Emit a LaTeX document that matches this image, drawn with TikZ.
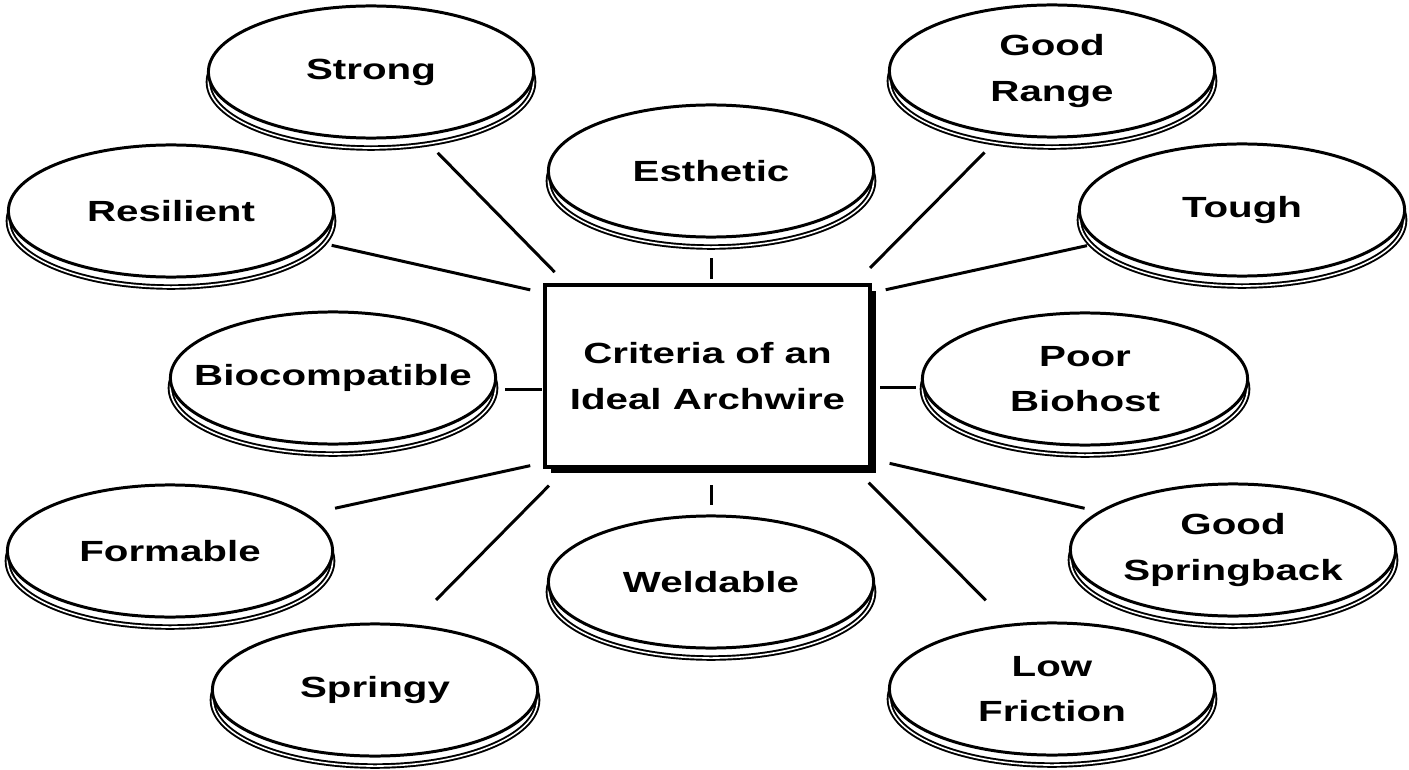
\documentclass[tikz,border=0pt]{standalone}
\usepackage{fontspec}
\newfontfamily\discfont[FakeStretch=1.38]{Liberation Sans}
\usetikzlibrary{shapes.geometric}

\tikzset{
	disc/.style={ellipse, draw, fill=white, line width=0.85pt,
		minimum width=3.25cm, minimum height=1.32cm,
		inner xsep=-1cm, inner ysep=-0.3cm, outer sep=0pt, align=center,
		font=\discfont\bfseries\fontsize{8.3}{13}\selectfont,
		preaction={draw, fill=white, line width=0.55pt, double=white, double distance=0.45pt,
			transform canvas={yshift=-0.1cm}}},
	hub/.style={rectangle, draw, fill=white, line width=1.1pt,
		minimum width=3.25cm, minimum height=1.82cm, outer sep=0pt, align=center,
		font=\discfont\bfseries\fontsize{8.3}{13}\selectfont,
		preaction={fill=black, transform canvas={shift={(0.06cm,-0.06cm)}}}},
	spoke/.style={line width=0.85pt}
}

\begin{document}
\begin{tikzpicture}[x=0.01cm, y=-0.01cm]
	\useasboundingbox[fill=white] (0,0) rectangle (1409,770);
	\node[hub] (hub) at (707.5,376) {Criteria of an\\Ideal Archwire};
	\node[disc] (strong) at (371,72) {Strong};
	\node[disc] (range) at (1052,71) {Good\\Range};
	\node[disc] (esthetic) at (711,171) {Esthetic};
	\node[disc] (resilient) at (171,211) {Resilient};
	\node[disc] (tough) at (1242,210) {Tough};
	\node[disc] (biocomp) at (333,378) {Biocompatible};
	\node[disc] (biohost) at (1085,379) {Poor\\Biohost};
	\node[disc] (formable) at (170,551) {Formable};
	\node[disc] (springback) at (1233,550) {Good\\Springback};
	\node[disc] (weldable) at (711,582) {Weldable};
	\node[disc] (springy) at (375,690) {Springy};
	\node[disc] (friction) at (1052,689) {Low\\Friction};

	\draw[spoke, shorten <=0.25cm, shorten >=0.18cm] (strong.-52) -- (hub.147);
	\draw[spoke, shorten <=0.17cm, shorten >=0.15cm] (resilient.-12) -- (hub.153);
	\draw[spoke, shorten <=0.21cm, shorten >=0.06cm] (esthetic.south) -- (esthetic.south |- hub.north);
	\draw[spoke, shorten <=0.26cm, shorten >=0.24cm] (range.232) -- (hub.32);
	\draw[spoke, shorten <=0.14cm, shorten >=0.16cm] (tough.193) -- (hub.27.5);
	\draw[spoke, shorten <=0.12cm, shorten >=0.03cm] (biocomp.-4) -- (biocomp.-4 -| hub.west);
	\draw[spoke, shorten <=0.08cm, shorten >=0.10cm] (biohost.183) -- (biohost.183 -| hub.east);
	\draw[spoke, shorten <=0.30cm, shorten >=0.15cm] (formable.15) -- (hub.208);
	\draw[spoke, shorten <=0.36cm, shorten >=0.26cm] (springy.61) -- (hub.213.5);
	\draw[spoke, shorten <=0.11cm, shorten >=0.18cm] (weldable.north) -- (weldable.north |- hub.south);
	\draw[spoke, shorten <=0.35cm, shorten >=0.22cm] (friction.123.5) -- (hub.328);
	\draw[spoke, shorten <=0.16cm, shorten >=0.20cm] (springback.164) -- (hub.333);
\end{tikzpicture}
\end{document}
